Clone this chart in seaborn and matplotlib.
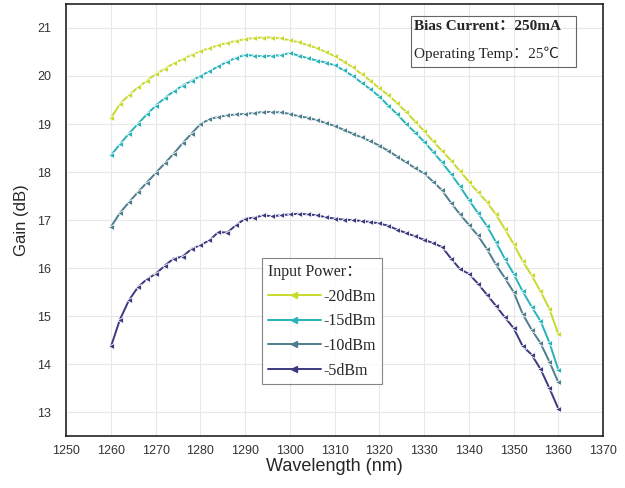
import numpy as np
import pandas as pd
import matplotlib
matplotlib.use('Agg')
import matplotlib.pyplot as plt
import seaborn as sns
from matplotlib.ticker import MultipleLocator

wavelength = list(range(1260, 1362, 2))

gain_m20 = [19.12, 19.42, 19.60, 19.76, 19.90, 20.04, 20.15, 20.26, 20.35, 20.44,
            20.52, 20.58, 20.64, 20.69, 20.73, 20.77, 20.79, 20.80, 20.80, 20.78,
            20.74, 20.70, 20.64, 20.58, 20.50, 20.41, 20.30, 20.18, 20.04, 19.90,
            19.74, 19.60, 19.43, 19.25, 19.05, 18.85, 18.64, 18.44, 18.24, 18.02,
            17.80, 17.58, 17.38, 17.12, 16.82, 16.50, 16.15, 15.85, 15.52, 15.15,
            14.62]
gain_m15 = [18.35, 18.58, 18.80, 19.00, 19.20, 19.38, 19.54, 19.68, 19.80, 19.90,
            20.00, 20.10, 20.20, 20.30, 20.38, 20.44, 20.42, 20.41, 20.42, 20.43,
            20.48, 20.42, 20.37, 20.32, 20.28, 20.22, 20.12, 20.00, 19.86, 19.72,
            19.57, 19.38, 19.20, 19.00, 18.82, 18.63, 18.42, 18.20, 17.96, 17.70,
            17.42, 17.15, 16.88, 16.55, 16.20, 15.88, 15.52, 15.20, 14.90, 14.45,
            13.88]
gain_m10 = [16.86, 17.15, 17.37, 17.58, 17.78, 17.98, 18.18, 18.38, 18.60, 18.80,
            19.00, 19.10, 19.15, 19.18, 19.20, 19.21, 19.23, 19.25, 19.25, 19.24,
            19.21, 19.16, 19.13, 19.08, 19.02, 18.96, 18.88, 18.80, 18.72, 18.64,
            18.55, 18.44, 18.32, 18.20, 18.08, 17.97, 17.80, 17.62, 17.36, 17.12,
            16.90, 16.68, 16.40, 16.08, 15.80, 15.50, 15.05, 14.72, 14.44, 14.05,
            13.62]
gain_m5 = [14.37, 14.93, 15.33, 15.60, 15.77, 15.88, 16.05, 16.20, 16.24, 16.40,
           16.48, 16.58, 16.75, 16.74, 16.90, 17.03, 17.05, 17.10, 17.08, 17.10,
           17.12, 17.13, 17.12, 17.10, 17.06, 17.03, 17.01, 17.00, 16.98, 16.96,
           16.93, 16.88, 16.80, 16.73, 16.66, 16.59, 16.52, 16.44, 16.20, 15.98,
           15.88, 15.68, 15.45, 15.22, 14.98, 14.75, 14.38, 14.20, 13.90, 13.50,
           13.07]

powers = ['-20dBm', '-15dBm', '-10dBm', '-5dBm']
colors = ['#c9d92c', '#27b3b8', '#4d7d8e', '#3b3a80']

frames = []
for p, g in zip(powers, [gain_m20, gain_m15, gain_m10, gain_m5]):
    frames.append(pd.DataFrame({'Wavelength': wavelength, 'Gain': g, 'Power': p}))
df = pd.concat(frames, ignore_index=True)

sns.set_style('white')
plt.rcParams['font.family'] = ['Liberation Sans', 'DejaVu Sans']
serif = ['Liberation Serif', 'Noto Sans CJK SC']

fig = plt.figure(figsize=(6.25, 4.88), dpi=100)
ax = fig.add_axes([0.106, 0.106, 0.859, 0.886])

ax.grid(True, color='#e8e8e8', lw=0.8)
sns.lineplot(data=df, x='Wavelength', y='Gain', hue='Power', style='Power',
             palette=dict(zip(powers, colors)),
             markers={p: '<' for p in powers}, dashes=False,
             lw=1.4, markersize=4.5, markeredgewidth=0.6, ax=ax, legend=False)

ax.set_xlim(1250, 1370)
ax.set_ylim(12.5, 21.5)
ax.xaxis.set_major_locator(MultipleLocator(10))
ax.xaxis.set_minor_locator(MultipleLocator(5))
ax.yaxis.set_major_locator(MultipleLocator(1))
ax.yaxis.set_minor_locator(MultipleLocator(0.5))
ax.tick_params(which='both', direction='in', top=False, right=False,
               colors='#333333', labelsize=9)
ax.tick_params(which='major', length=5, width=0.8)
ax.tick_params(which='minor', length=3, width=0.8)
ax.tick_params(axis='x', pad=6)
ax.tick_params(axis='y', pad=11)
for s in ax.spines.values():
    s.set_color('#222222')
    s.set_linewidth(1.2)

ax.set_xlabel('Wavelength (nm)', fontsize=13, labelpad=1)
ax.set_ylabel('Gain (dB)', fontsize=12, labelpad=6)

handles = [plt.Line2D([], [], color=c, marker='<', ms=4, lw=1.4) for c in colors]
leg = ax.legend(handles, powers, title='Input Power：', loc='upper left',
                bbox_to_anchor=(0.365, 0.412), frameon=True, fancybox=False,
                handlelength=3.3, handletextpad=0.2, borderpad=0.35,
                labelspacing=0.55, borderaxespad=0,
                prop={'family': serif, 'size': 11.5})
leg.get_title().set_fontproperties({'family': serif, 'size': 11.5})
leg._legend_box.align = 'left'
leg.get_frame().set_edgecolor('#666666')
leg.get_frame().set_linewidth(0.8)
leg.set_zorder(10)

ax.text(0.647, 0.962, 'Bias Current：250mA', transform=ax.transAxes,
        fontsize=11, fontweight='bold', va='top', ha='left', family=serif)
ax.text(0.647, 0.902, 'Operating Temp：25℃', transform=ax.transAxes,
        fontsize=11, va='top', ha='left', family=serif)
ax.add_patch(plt.Rectangle((0.642, 0.855), 0.308, 0.118, transform=ax.transAxes,
                           fill=False, ec='#666666', lw=0.8))

fig.savefig('out.png', dpi=100)
